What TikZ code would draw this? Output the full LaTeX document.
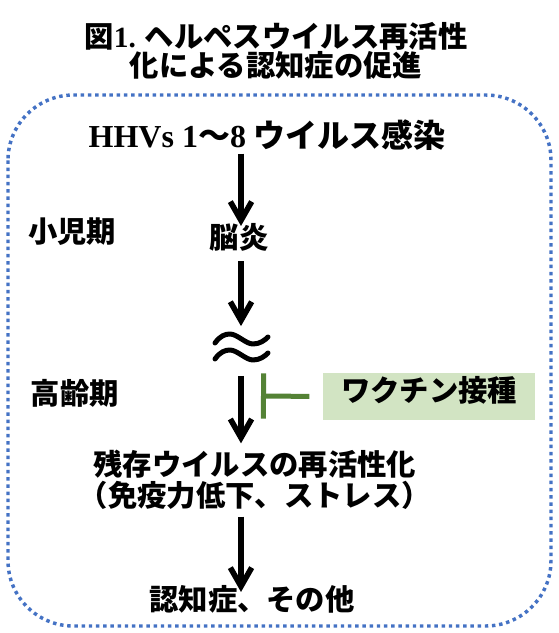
\documentclass[tikz,border=0pt]{standalone}
\usepackage{fontspec}
\setmainfont{Noto Sans CJK JP}
\newfontfamily\latin{Liberation Serif}
\usetikzlibrary{arrows.meta}

\definecolor{frameblue}{RGB}{68,114,196}
\definecolor{vacgreen}{RGB}{84,130,53}
\definecolor{vacfill}{RGB}{210,228,195}

\begin{document}
\begin{tikzpicture}[x=0.75pt, y=-0.75pt, line join=round]
  \tikzset{
    txt/.style={font=\bfseries\fontsize{22}{22}\selectfont, inner sep=0pt, text height=0.84em, text depth=0.08em, align=center},
    twoline/.style={font=\bfseries\fontsize{22}{#1}\selectfont, inner sep=0pt, align=center},
    flow/.style={line width=4.2pt, -{Straight Barb[length=14pt, width=16pt]}, draw=black},
    block/.style={line width=3.75pt, -{Bar[width=34pt]}, draw=vacgreen},
    wave/.style={line width=3.75pt, line cap=round, draw=black},
    frame/.style={draw=frameblue, line width=2.6pt, dash pattern=on 2.6pt off 2.8pt, rounded corners=49pt}
  }
  \useasboundingbox (0,0) rectangle (558,633);

  % 点線の枠
  \draw[frame] (8,95) rectangle (551,626);

  % タイトル
  \node[twoline=22] (title) at (276,51) {図{\latin 1.} ヘルペスウイルス再活性\\化による認知症の促進};

  % 流れ
  \node[txt, font=\bfseries\fontsize{24}{24}\selectfont] (hhv) at (267,142) {{\latin HHVs 1}～{\latin 8} ウイルス感染};
  \node[txt] (enc) at (239,243) {脳炎};
  \node[minimum width=41pt, minimum height=21pt, inner sep=0pt] (gap) at (241,347) {};
  \node[twoline=23.25] (react) at (255,480) {残存ウイルスの再活性化\\（免疫力低下、ストレス）};
  \node[txt] (dem) at (252,605) {認知症、その他};

  % 時期
  \node[txt] (child) at (72,237) {小児期};
  \node[txt] (old) at (75,399) {高齢期};

  % ワクチン
  \node[txt, fill=vacfill, minimum width=159pt, minimum height=35pt] (vac) at (429,396.5) {ワクチン接種};
  \coordinate (stop) at (261,396);

  % 矢印
  \draw[flow, shorten <=4pt, shorten >=8pt] (hhv.south -| gap) -- (enc.north -| gap);
  \draw[flow, shorten <=9pt, shorten >=5pt] (enc.south -| gap) -- (gap.north);
  \draw[flow, shorten <=11pt, shorten >=5pt] (gap.south) -- (react.north -| gap);
  \draw[flow, shorten <=5pt, shorten >=5pt] (react.south -| gap) -- (dem.north -| gap);
  \draw[block, shorten <=10pt] (vac.west) -- (stop);

  % ≈
  \foreach \dy in {-8,8}
    \draw[wave, shift={(gap.center)}] (-26,\dy+4) .. controls (-21,\dy-3) and (-16,\dy-5) .. (-11,\dy-5)
      .. controls (-4,\dy-5) and (5,\dy+5) .. (12,\dy+5) .. controls (19,\dy+5) and (24,\dy+1) .. (27,\dy-2);

\end{tikzpicture}
\end{document}
